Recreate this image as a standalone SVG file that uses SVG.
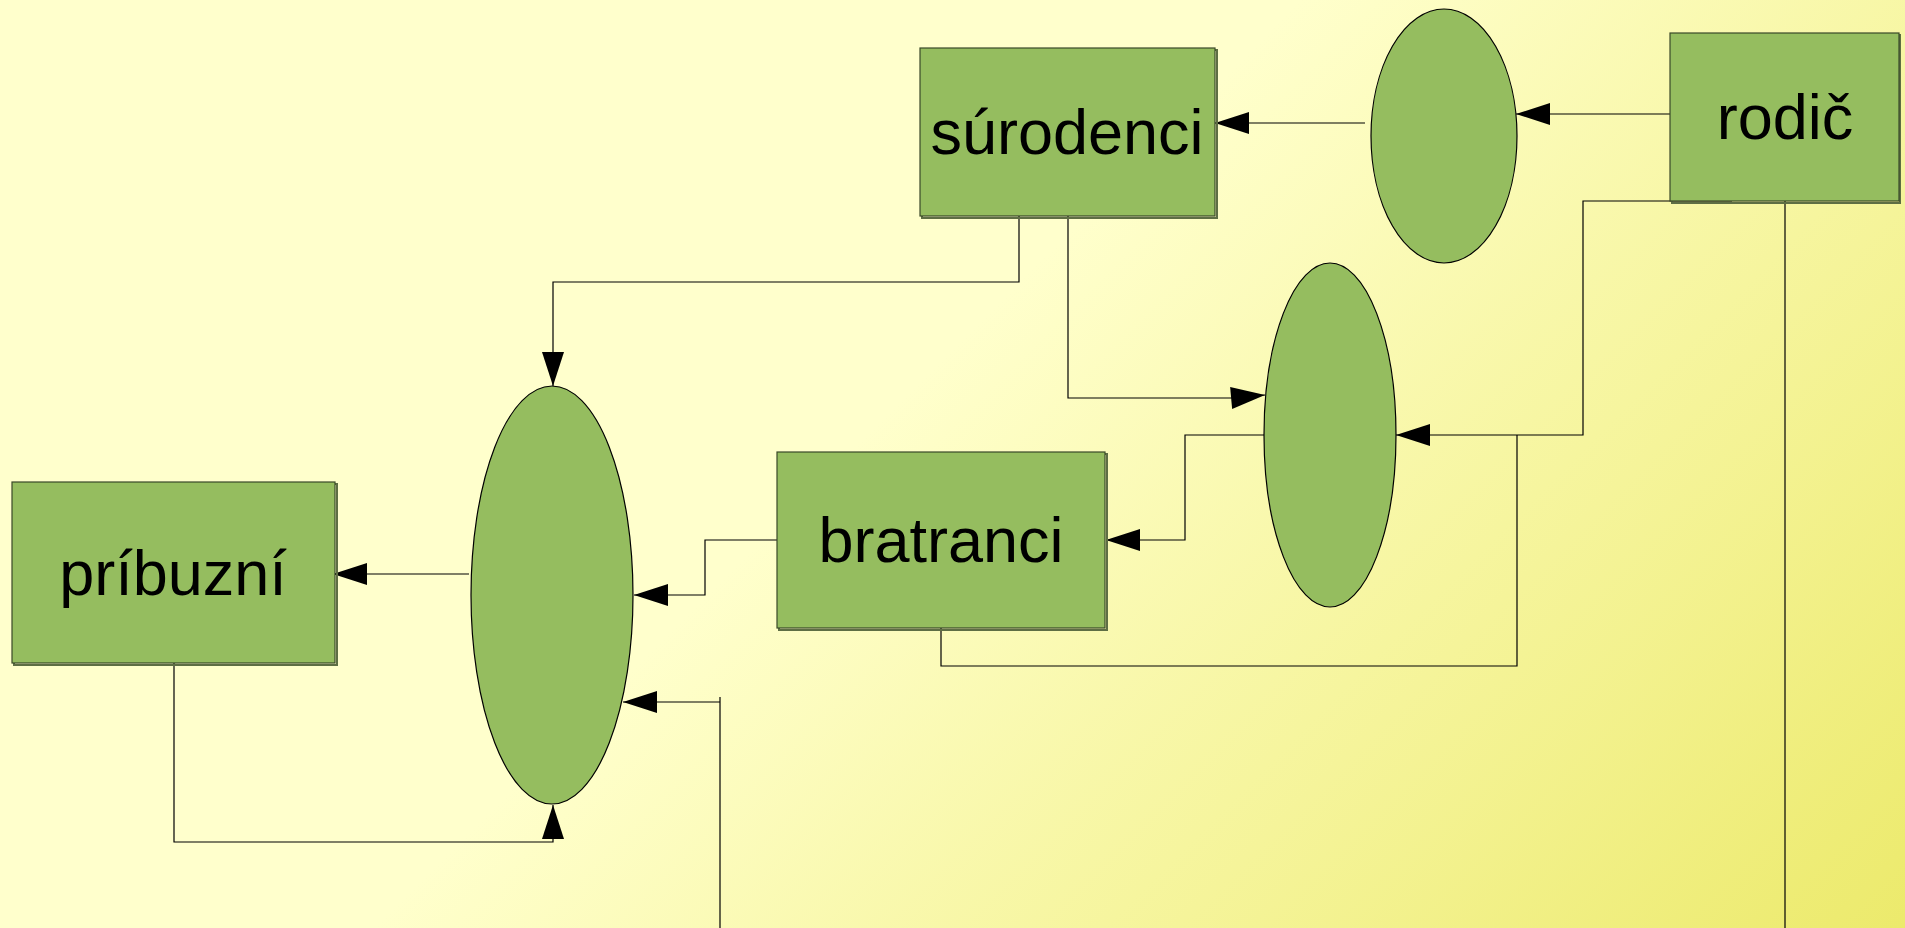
<svg xmlns="http://www.w3.org/2000/svg" width="1905" height="928" viewBox="0 0 1905 928">
<defs>
<linearGradient id="bg" gradientUnits="userSpaceOnUse" x1="650" y1="650" x2="1416" y2="1416">
<stop offset="0" stop-color="#FFFFCC"/>
<stop offset="1" stop-color="#ECEA6C"/>
</linearGradient>
<marker id="arr" markerUnits="userSpaceOnUse" markerWidth="34" markerHeight="22" refX="34" refY="11" orient="auto" overflow="visible">
<path d="M0,0 L34,11 L0,22 z" fill="#000"/>
</marker>
</defs>
<style>
.box{fill:#95BD5F;stroke:#3A4828;stroke-width:1.2}
.shadow{fill:none;stroke:#5E6E44;stroke-width:2}
.ell{fill:#95BD5F;stroke:#000;stroke-width:1.2}
.lbl{font-family:"Liberation Sans",Arial,sans-serif;font-size:63px;fill:#000;text-anchor:middle}
.c{fill:none;stroke:#000;stroke-width:1.2}
.a{marker-end:url(#arr)}
</style>
<rect x="0" y="0" width="1905" height="928" fill="url(#bg)"/>
<g id="connectors">
<path class="c a" d="M1672,114 H1516"/>
<path class="c a" d="M1365,123 H1215"/>
<path class="c a" d="M1019,216 V282 H553 V386"/>
<path class="c a" d="M1068,216 V398 H1232 L1265,395"/>
<path class="c a" d="M1732,201 H1583 V435 H1396"/>
<path class="c" d="M941,628 V666 H1517 V435"/>
<path class="c" d="M1785,201 V928"/>
<path class="c a" d="M1264,435 H1185 V540 H1106"/>
<path class="c a" d="M777,540 H705 V595 H634"/>
<path class="c a" d="M469,574 H333"/>
<path class="c a" d="M174,663 V842 H553 V805"/>
<path class="c" d="M720,928 V697"/>
<path class="c a" d="M720,702 H623"/>
</g>
<g id="surodenci">
<rect class="shadow" x="922" y="50" width="295" height="168"/>
<rect class="box" x="920" y="48" width="295" height="168"/>
<text class="lbl" x="1067" y="154">súrodenci</text>
</g>
<g id="rodic">
<rect class="shadow" x="1672" y="35" width="228" height="168"/>
<rect class="box" x="1670" y="33" width="229" height="168"/>
<text class="lbl" x="1785" y="139">rodič</text>
</g>
<g id="bratranci">
<rect class="shadow" x="779" y="454" width="328" height="176"/>
<rect class="box" x="777" y="452" width="328" height="176"/>
<text class="lbl" x="941" y="562">bratranci</text>
</g>
<g id="pribuzni">
<rect class="shadow" x="14" y="484" width="323" height="181"/>
<rect class="box" x="12" y="482" width="323" height="181"/>
<text class="lbl" x="173" y="595">príbuzní</text>
</g>
<g id="ellipse-top">
<ellipse class="ell" cx="1444" cy="136" rx="73" ry="127"/>
</g>
<g id="ellipse-middle">
<ellipse class="ell" cx="1330" cy="435" rx="66" ry="172"/>
</g>
<g id="ellipse-big">
<ellipse class="ell" cx="552" cy="595" rx="81" ry="209"/>
</g>
</svg>
